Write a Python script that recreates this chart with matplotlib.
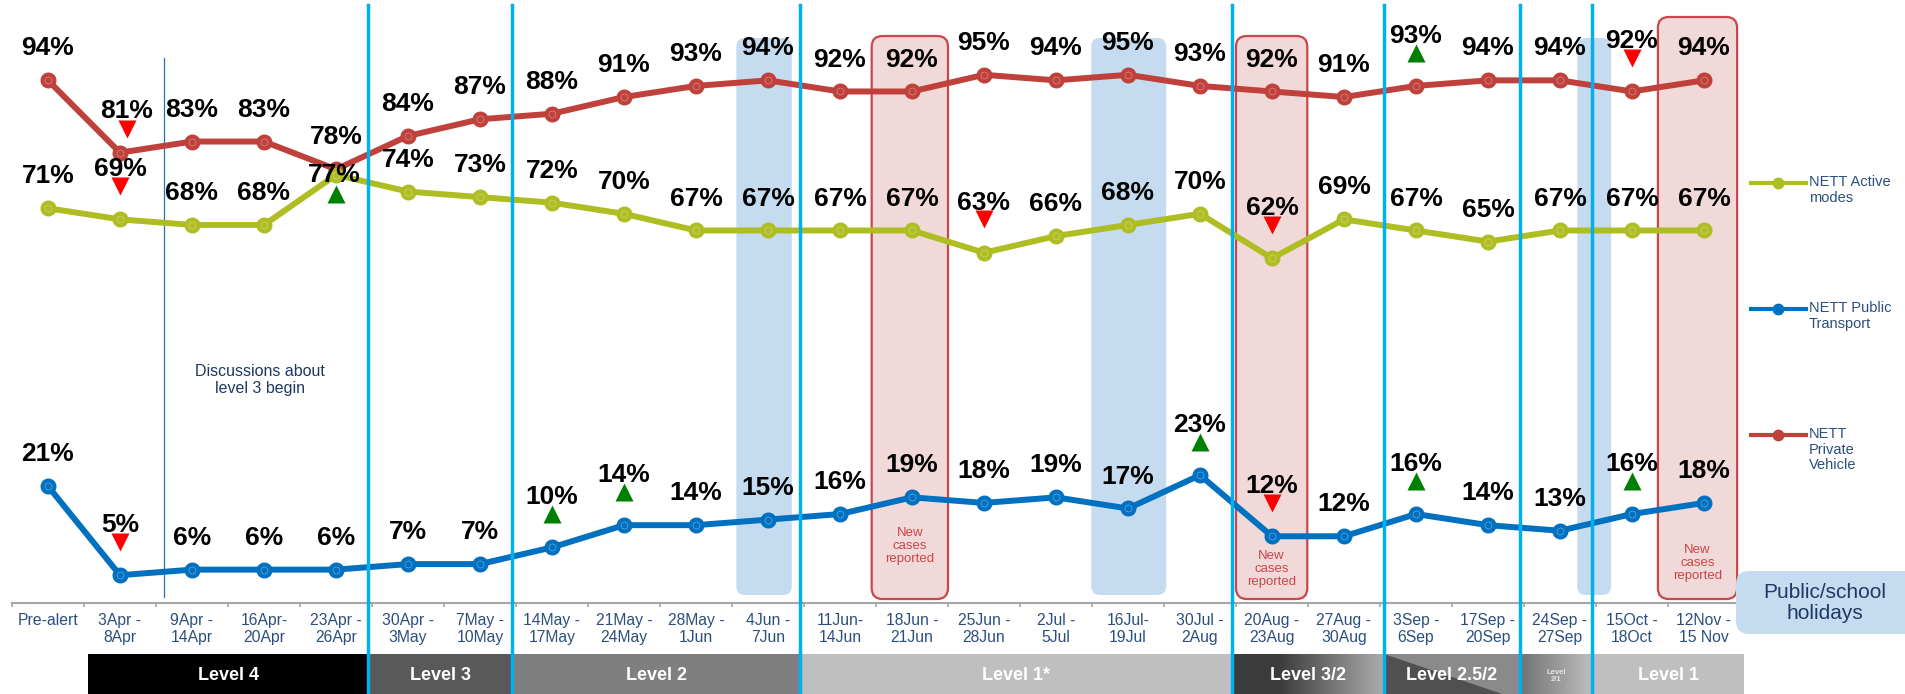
"""Weekly travel mode share (NETT) with alert levels, holidays and new case markers"""
import matplotlib.pyplot as plt
from matplotlib.patches import Rectangle, FancyBboxPatch, Polygon
from matplotlib.lines import Line2D
from matplotlib.transforms import offset_copy
import numpy as np

plt.rcParams['font.family'] = ['Liberation Sans', 'DejaVu Sans']

# data
weeks = ["Pre-alert", "3Apr -\n8Apr", "9Apr -\n14Apr", "16Apr-\n20Apr", "23Apr -\n26Apr",
         "30Apr -\n3May", "7May -\n10May", "14May -\n17May", "21May -\n24May", "28May -\n1Jun",
         "4Jun -\n7Jun", "11Jun-\n14Jun", "18Jun -\n21Jun", "25Jun -\n28Jun", "2Jul -\n5Jul",
         "16Jul-\n19Jul", "30Jul -\n2Aug", "20Aug -\n23Aug", "27Aug -\n30Aug", "3Sep -\n6Sep",
         "17Sep -\n20Sep", "24Sep -\n27Sep", "15Oct -\n18Oct", "12Nov -\n15 Nov"]
private = [94, 81, 83, 83, 78, 84, 87, 88, 91, 93, 94, 92, 92, 95, 94, 95, 93, 92, 91, 93, 94, 94, 92, 94]
active = [71, 69, 68, 68, 77, 74, 73, 72, 70, 67, 67, 67, 67, 63, 66, 68, 70, 62, 69, 67, 65, 67, 67, 67]
public = [21, 5, 6, 6, 6, 7, 7, 10, 14, 14, 15, 16, 19, 18, 19, 17, 23, 12, 12, 16, 14, 13, 16, 18]

# significant changes: week index -> direction
private_change = {1: 'down', 19: 'up', 22: 'down'}
active_change = {1: 'down', 4: 'up', 13: 'down', 17: 'down'}
public_change = {1: 'down', 7: 'up', 8: 'up', 16: 'up', 17: 'down', 19: 'up', 22: 'up'}

levels = ["Level 4", "Level 3", "Level 2", "Level 1*", "Level 3/2", "Level 2.5/2", "Level\n2/1", "Level 1"]
level_edges = [0.56, 4.45, 6.45, 10.45, 16.45, 18.55, 20.45, 21.45, 23.56]
level_breaks = [4.45, 6.45, 10.45, 16.45, 18.55, 20.45, 21.45]

holidays = [(9.56, 10.33), (14.49, 15.53), (21.24, 21.71)]
new_cases = [(11.44, 12.5, 36, 546), (16.5, 17.49, 36, 569), (22.36, 23.46, 17, 563)]

# colours
c_private = '#c0403b'
c_active = '#aebd22'
c_public = '#0070c0'
c_text = '#2a4f7e'
c_navy = '#1f3864'
c_sep = '#00b0f0'
c_hol = '#c5dcf0'

W, H = 1905, 694
AXIS_PX = 603      # pixel row of the 0% baseline
SCALE = 5.56       # pixels per percentage point
fig = plt.figure(figsize=(W / 100, H / 100), dpi=100)
ax = fig.add_axes([12 / W, (H - AXIS_PX) / H, 1728 / W, 100 * SCALE / H])
ax.set_xlim(-0.5, 23.5)
ax.set_ylim(0, 100)
ASPECT = 72 / SCALE


def ypx(p):
    # pixel row -> data value
    return (AXIS_PX - p) / SCALE


x = np.arange(len(weeks))

# holiday shading and new case boxes
for a, b in holidays:
    ax.add_patch(FancyBboxPatch((a, ypx(595)), b - a, ypx(38) - ypx(595),
                                boxstyle="round,pad=0,rounding_size=0.12",
                                mutation_aspect=ASPECT, fc=c_hol, ec='none', zorder=1, clip_on=False))
for a, b, top, ty in new_cases:
    ax.add_patch(FancyBboxPatch((a, ypx(599)), b - a, ypx(top) - ypx(599),
                                boxstyle="round,pad=0,rounding_size=0.15",
                                mutation_aspect=ASPECT, fc='#f2d9d9', ec='#c9474a', lw=1.6,
                                zorder=1, clip_on=False))
    ax.text((a + b) / 2, ypx(ty), "New\ncases\nreported", ha='center', va='center', fontsize=9.5,
            color='#c9474a', linespacing=1.15, zorder=2)

# discussions marker
ax.plot([1.61, 1.61], [ypx(597), ypx(58)], color='#2e6fb0', lw=0.9, zorder=2)
ax.text(2.94, ypx(380), "Discussions about\nlevel 3 begin", ha='center', va='center',
        fontsize=11.5, color=c_navy, linespacing=1.15)

# series
for vals, col in [(private, c_private), (active, c_active), (public, c_public)]:
    ax.plot(x, vals, color=col, lw=4.3, marker='o', ms=10.5, mec=col, zorder=3)
    ax.plot(x, vals, ls='none', marker='o', ms=5, mfc='none', mec='white', mew=0.4,
            alpha=0.5, zorder=3)

# alert level separators
for xb in level_breaks:
    ax.plot([xb, xb], [ypx(700), ypx(5)], color=c_sep, lw=2.5, zorder=7, clip_on=False)

# value labels and change arrows
label_fix = {('private', 1): (5, 30, 5, 17),
             ('active', 4): (-1, 0, 0, -14)}
for name, vals, change in [('private', private, private_change),
                           ('active', active, active_change),
                           ('public', public, public_change)]:
    for i, v in enumerate(vals):
        d = change.get(i)
        lx, ly, tx, ty = (0, 36, 0, 24) if d else (0, 23, 0, 0)
        if (name, i) in label_fix:
            lx, ly, tx, ty = label_fix[(name, i)]
        ax.annotate(f"{v}%", (i, v), xytext=(lx, ly), textcoords='offset points', ha='center',
                    va='center', fontsize=19, fontweight='bold', color='black', zorder=8)
        if d:
            tr = offset_copy(ax.transData, fig=fig, x=tx, y=ty, units='points')
            ax.plot(i, v, marker='^' if d == 'up' else 'v', ms=12.5, mec='none',
                    color='#008000' if d == 'up' else '#ff0000', transform=tr, zorder=8,
                    clip_on=False)

# axis styling
for s in ['top', 'right', 'left']:
    ax.spines[s].set_visible(False)
ax.spines['bottom'].set_color('#a6a6a6')
ax.spines['bottom'].set_linewidth(1.5)
ax.set_yticks([])
ax.set_xticks(x)
ax.set_xticklabels(weeks, fontsize=11.3, color=c_text, linespacing=1.2)
ax.set_xticks(np.arange(-0.5, 24, 1), minor=True)
ax.tick_params(axis='x', which='major', length=0, pad=7)
ax.tick_params(axis='x', which='minor', length=3, width=1.2, color='#a6a6a6', direction='out')

# alert level bar
y0, y1 = ypx(700), ypx(654)
ty_lvl = ypx(676)
solid = {0: '#000000', 1: '#595959', 2: '#7f7f7f', 3: '#bfbfbf', 7: '#bfbfbf'}
for k, lab in enumerate(levels):
    a, b = level_edges[k], level_edges[k + 1]
    if k in solid:
        ax.add_patch(Rectangle((a, y0), b - a, y1 - y0, fc=solid[k], ec='none', clip_on=False, zorder=2))
    elif k == 4:
        n = 60
        for j in range(n):
            t = j / n
            g = 0.23 if t < 0.3 else 0.23 + (t - 0.3) / 0.7 * 0.45
            ax.add_patch(Rectangle((a + (b - a) * t, y0), (b - a) / n * 1.05, y1 - y0,
                                   fc=(g, g, g), ec='none', clip_on=False, zorder=2))
    elif k == 5:
        ax.add_patch(Rectangle((a, y0), b - a, y1 - y0, fc='#505050', ec='none', clip_on=False, zorder=2))
        ax.add_patch(Polygon([(a, y1), (b, y1), (b, y0)], closed=True, fc='#8a8a8a', ec='none',
                             clip_on=False, zorder=2))
    else:
        n = 30
        for j in range(n):
            t = j / n
            g = 0.45 + t * 0.3
            ax.add_patch(Rectangle((a + (b - a) * t, y0), (b - a) / n * 1.05, y1 - y0,
                                   fc=(g, g, g), ec='none', clip_on=False, zorder=2))
    if k == 6:
        ax.text((a + b) / 2, ty_lvl, lab, ha='center', va='center', fontsize=5.5,
                fontweight='bold', color='#e6e6e6', linespacing=1.1, zorder=3)
    else:
        ax.text((a + b) / 2, ty_lvl, lab, ha='center', va='center', fontsize=13,
                fontweight='bold', color='white', zorder=3)


# legend and holiday key (figure pixel helpers)
def fx(px):
    return px / W


def fy(py):
    return 1 - py / H


legend = [("NETT Active\nmodes", c_active, 183), ("NETT Public\nTransport", c_public, 309),
          ("NETT\nPrivate\nVehicle", c_private, 435)]
for lab, col, py in legend:
    fig.add_artist(Line2D([fx(1751), fx(1806)], [fy(py), fy(py)], color=col, lw=3,
                          transform=fig.transFigure))
    fig.add_artist(Line2D([fx(1778)], [fy(py)], color=col, marker='o', ms=7.5,
                          transform=fig.transFigure))
    fig.text(fx(1809), fy(py - 8), lab, ha='left', va='top', fontsize=10.5, color=c_text,
             linespacing=1.15)

fig.add_artist(FancyBboxPatch((fx(1736), fy(634)), fx(200), 63 / H,
                              boxstyle="round,pad=0,rounding_size=0.007",
                              mutation_aspect=W / H, fc=c_hol, ec='none',
                              transform=fig.transFigure))
fig.text(fx(1825), fy(603), "Public/school\nholidays", ha='center', va='center', fontsize=15,
         color=c_navy, linespacing=1.15)

fig.savefig('out.png', dpi=100)
